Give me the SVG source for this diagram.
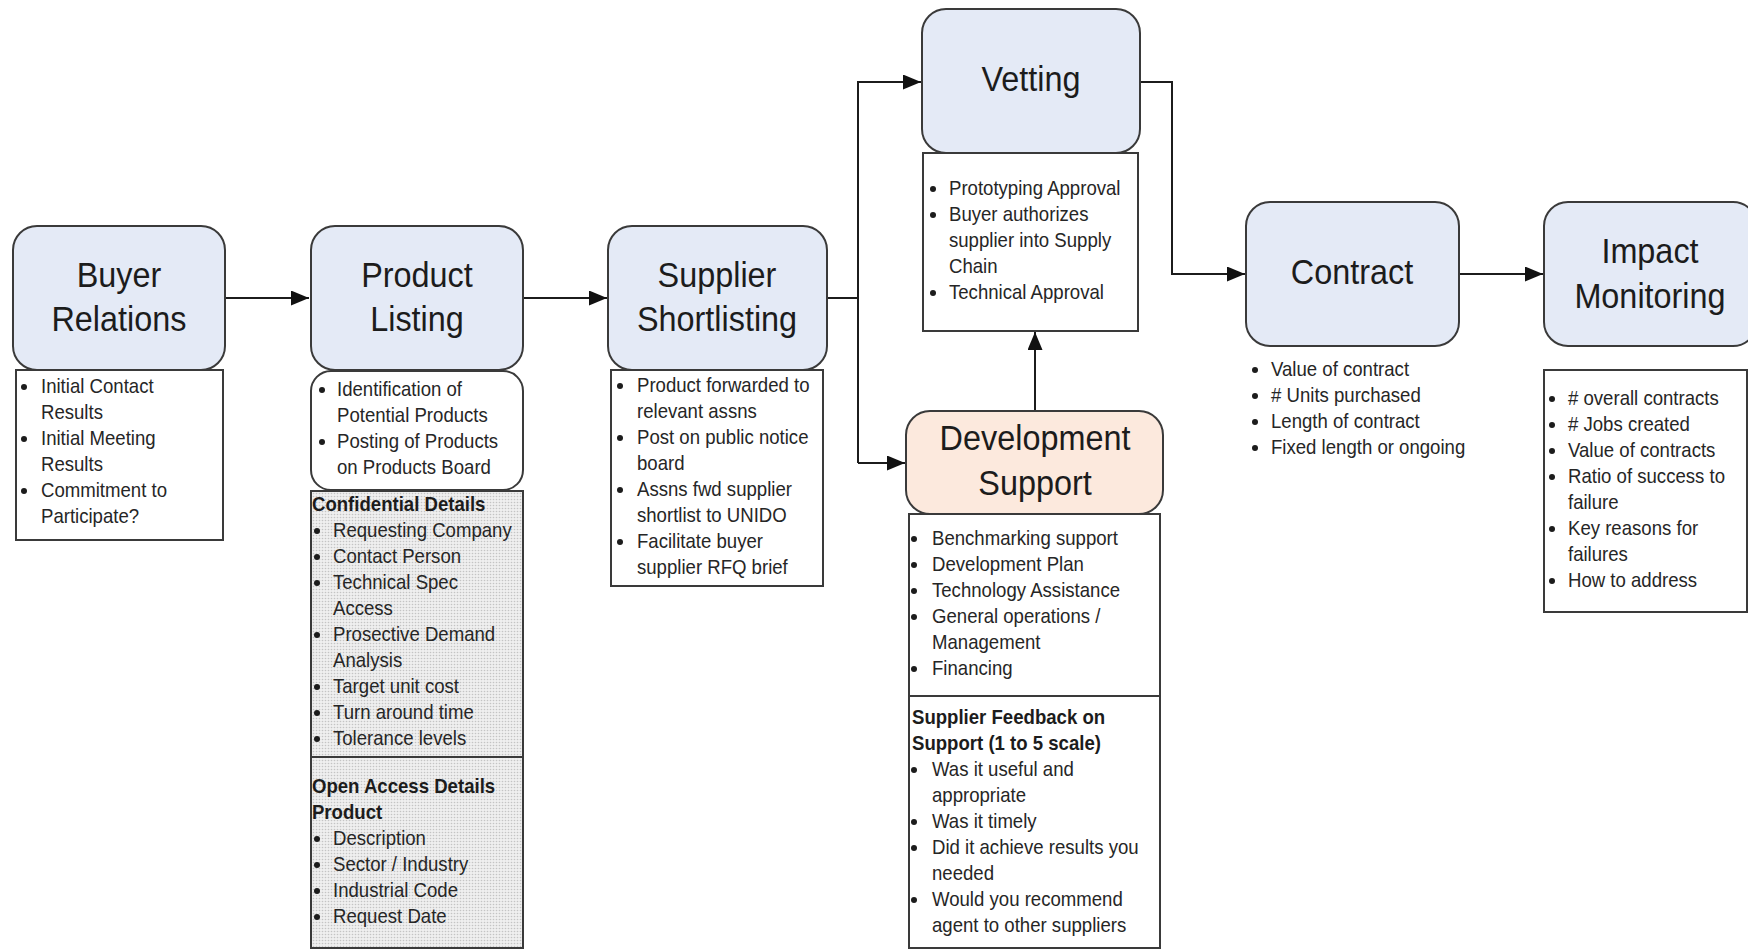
<svg xmlns="http://www.w3.org/2000/svg" width="1748" height="949" viewBox="0 0 1748 949">
<style>
.box{fill:#E4EAF6;stroke:#3a3a3a;stroke-width:2}
.dev{fill:#FCE9DD;stroke:#3a3a3a;stroke-width:2}
.tb{fill:#ffffff;stroke:#3a3a3a;stroke-width:2}
.dt{fill:url(#dots);stroke:#3a3a3a;stroke-width:2}
.title{font-family:"Liberation Sans",Arial,sans-serif;font-size:36px;fill:#1c1c1c;text-anchor:middle}
.t{font-family:"Liberation Sans",Arial,sans-serif;font-size:20px;fill:#262626}
.b{font-weight:bold;fill:#1c1c1c}
.bul circle{fill:#1c1c1c;r:3px}
.conn{fill:none;stroke:#1c1c1c;stroke-width:2}
</style>
<defs>
<pattern id="dots" width="3" height="3" patternUnits="userSpaceOnUse">
<rect width="3" height="3" fill="#efefef"/>
<circle cx="1.5" cy="1.5" r="0.8" fill="#c4c4c4"/>
</pattern>
<marker id="arr" markerUnits="userSpaceOnUse" markerWidth="20" markerHeight="16" refX="18" refY="7.5" orient="auto">
<path d="M0,0 L18,7.5 L0,15 z" fill="#111"/>
</marker>
</defs>

<g id="connectors">
<path class="conn" d="M225,298 H309" marker-end="url(#arr)"/>
<path class="conn" d="M523,298 H607" marker-end="url(#arr)"/>
<path class="conn" d="M827,298 H858"/>
<path class="conn" d="M858,463 V82 H921" marker-end="url(#arr)"/>
<path class="conn" d="M858,463 H905" marker-end="url(#arr)"/>
<path class="conn" d="M1140,82 H1172 V274 H1245" marker-end="url(#arr)"/>
<path class="conn" d="M1459,274 H1543" marker-end="url(#arr)"/>
<path class="conn" d="M1035,411 V332" marker-end="url(#arr)"/>
</g>

<g id="buyer-relations">
<rect class="box" x="13" y="226" width="212" height="144" rx="24"/>
<g transform="matrix(0.9 0 0 1 11.9 0)">
<text class="title" x="119" y="287">Buyer</text>
<text class="title" x="119" y="331">Relations</text>
</g>
<rect class="tb" x="16" y="370" width="207" height="170"/>
<g class="bul">
<circle cx="24" cy="387" r="3"/><circle cx="24" cy="439" r="3"/><circle cx="24" cy="491" r="3"/>
</g>
<g transform="matrix(0.93 0 0 1 2.87 0)">
<text class="t" x="41" y="393">Initial Contact</text>
<text class="t" x="41" y="419">Results</text>
<text class="t" x="41" y="445">Initial Meeting</text>
<text class="t" x="41" y="471">Results</text>
<text class="t" x="41" y="497">Commitment to</text>
<text class="t" x="41" y="523">Participate?</text>
</g>
</g>

<g id="product-listing">
<rect class="box" x="311" y="226" width="212" height="144" rx="24"/>
<g transform="matrix(0.9 0 0 1 41.7 0)">
<text class="title" x="417" y="287">Product</text>
<text class="title" x="417" y="331">Listing</text>
</g>
<rect class="tb" x="311" y="371" width="212" height="119" rx="20"/>
<g class="bul">
<circle cx="322" cy="390" r="3"/><circle cx="322" cy="442" r="3"/>
</g>
<g transform="matrix(0.93 0 0 1 23.59 0)">
<text class="t" x="337" y="396">Identification of</text>
<text class="t" x="337" y="422">Potential Products</text>
<text class="t" x="337" y="448">Posting of Products</text>
<text class="t" x="337" y="474">on Products Board</text>
</g>
<rect class="dt" x="311" y="491" width="212" height="266"/>
<rect class="dt" x="311" y="757" width="212" height="191"/>
<g class="bul">
<circle cx="317" cy="531" r="3"/><circle cx="317" cy="557" r="3"/><circle cx="317" cy="583" r="3"/>
<circle cx="317" cy="635" r="3"/><circle cx="317" cy="687" r="3"/><circle cx="317" cy="713" r="3"/>
<circle cx="317" cy="739" r="3"/>
<circle cx="317" cy="839" r="3"/><circle cx="317" cy="865" r="3"/><circle cx="317" cy="891" r="3"/>
<circle cx="317" cy="917" r="3"/>
</g>
<g transform="matrix(0.93 0 0 1 23.31 0)">
<text class="t b" x="310.4" y="511">Confidential Details</text>
<text class="t" x="333" y="537">Requesting Company</text>
<text class="t" x="333" y="563">Contact Person</text>
<text class="t" x="333" y="589">Technical Spec</text>
<text class="t" x="333" y="615">Access</text>
<text class="t" x="333" y="641">Prosective Demand</text>
<text class="t" x="333" y="667">Analysis</text>
<text class="t" x="333" y="693">Target unit cost</text>
<text class="t" x="333" y="719">Turn around time</text>
<text class="t" x="333" y="745">Tolerance levels</text>
<text class="t b" x="310.4" y="793">Open Access Details</text>
<text class="t b" x="310.4" y="819">Product</text>
<text class="t" x="333" y="845">Description</text>
<text class="t" x="333" y="871">Sector / Industry</text>
<text class="t" x="333" y="897">Industrial Code</text>
<text class="t" x="333" y="923">Request Date</text>
</g>
</g>

<g id="supplier-shortlisting">
<rect class="box" x="608" y="226" width="219" height="144" rx="24"/>
<g transform="matrix(0.9 0 0 1 71.7 0)">
<text class="title" x="717" y="287">Supplier</text>
<text class="title" x="717" y="331">Shortlisting</text>
</g>
<rect class="tb" x="611" y="370" width="212" height="216"/>
<g class="bul">
<circle cx="620" cy="386" r="3"/><circle cx="620" cy="438" r="3"/><circle cx="620" cy="490" r="3"/>
<circle cx="620" cy="542" r="3"/>
</g>
<g transform="matrix(0.93 0 0 1 44.59 0)">
<text class="t" x="637" y="392">Product forwarded to</text>
<text class="t" x="637" y="418">relevant assns</text>
<text class="t" x="637" y="444">Post on public notice</text>
<text class="t" x="637" y="470">board</text>
<text class="t" x="637" y="496">Assns fwd supplier</text>
<text class="t" x="637" y="522">shortlist to UNIDO</text>
<text class="t" x="637" y="548">Facilitate buyer</text>
<text class="t" x="637" y="574">supplier RFQ brief</text>
</g>
</g>

<g id="vetting">
<rect class="box" x="922" y="9" width="218" height="144" rx="24"/>
<g transform="matrix(0.9 0 0 1 103.1 0)">
<text class="title" x="1031" y="91">Vetting</text>
</g>
<rect class="tb" x="923" y="153" width="215" height="178"/>
<g class="bul">
<circle cx="933" cy="189" r="3"/><circle cx="933" cy="215" r="3"/><circle cx="933" cy="293" r="3"/>
</g>
<g transform="matrix(0.93 0 0 1 66.43 0)">
<text class="t" x="949" y="195">Prototyping Approval</text>
<text class="t" x="949" y="221">Buyer authorizes</text>
<text class="t" x="949" y="247">supplier into Supply</text>
<text class="t" x="949" y="273">Chain</text>
<text class="t" x="949" y="299">Technical Approval</text>
</g>
</g>

<g id="development-support">
<rect class="dev" x="906" y="411" width="257" height="103" rx="24"/>
<g transform="matrix(0.9 0 0 1 103.5 0)">
<text class="title" x="1035" y="450">Development</text>
<text class="title" x="1035" y="495">Support</text>
</g>
<rect class="tb" x="909" y="514" width="251" height="182"/>
<rect class="tb" x="909" y="696" width="251" height="252"/>
<g class="bul">
<circle cx="914" cy="539" r="3"/><circle cx="914" cy="565" r="3"/><circle cx="914" cy="591" r="3"/>
<circle cx="914" cy="617" r="3"/><circle cx="914" cy="669" r="3"/>
<circle cx="914" cy="770" r="3"/><circle cx="914" cy="822" r="3"/><circle cx="914" cy="848" r="3"/>
<circle cx="914" cy="900" r="3"/>
</g>
<g transform="matrix(0.93 0 0 1 65.24 0)">
<text class="t" x="932" y="545">Benchmarking support</text>
<text class="t" x="932" y="571">Development Plan</text>
<text class="t" x="932" y="597">Technology Assistance</text>
<text class="t" x="932" y="623">General operations /</text>
<text class="t" x="932" y="649">Management</text>
<text class="t" x="932" y="675">Financing</text>
<text class="t b" x="910.5" y="724">Supplier Feedback on</text>
<text class="t b" x="910.5" y="750">Support (1 to 5 scale)</text>
<text class="t" x="932" y="776">Was it useful and</text>
<text class="t" x="932" y="802">appropriate</text>
<text class="t" x="932" y="828">Was it timely</text>
<text class="t" x="932" y="854">Did it achieve results you</text>
<text class="t" x="932" y="880">needed</text>
<text class="t" x="932" y="906">Would you recommend</text>
<text class="t" x="932" y="932">agent to other suppliers</text>
</g>
</g>

<g id="contract">
<rect class="box" x="1246" y="202" width="213" height="144" rx="24"/>
<g transform="matrix(0.9 0 0 1 135.2 0)">
<text class="title" x="1352" y="284">Contract</text>
</g>
<g class="bul">
<circle cx="1255" cy="370" r="3"/><circle cx="1255" cy="396" r="3"/><circle cx="1255" cy="422" r="3"/>
<circle cx="1255" cy="448" r="3"/>
</g>
<g transform="matrix(0.93 0 0 1 88.97 0)">
<text class="t" x="1271" y="376">Value of contract</text>
<text class="t" x="1271" y="402"># Units purchased</text>
<text class="t" x="1271" y="428">Length of contract</text>
<text class="t" x="1271" y="454">Fixed length or ongoing</text>
</g>
</g>

<g id="impact-monitoring">
<rect class="box" x="1544" y="202" width="213" height="144" rx="24"/>
<g transform="matrix(0.9 0 0 1 165 0)">
<text class="title" x="1650" y="263">Impact</text>
<text class="title" x="1650" y="308">Monitoring</text>
</g>
<rect class="tb" x="1544" y="370" width="203" height="242"/>
<g class="bul">
<circle cx="1552" cy="399" r="3"/><circle cx="1552" cy="425" r="3"/><circle cx="1552" cy="451" r="3"/>
<circle cx="1552" cy="477" r="3"/><circle cx="1552" cy="529" r="3"/><circle cx="1552" cy="581" r="3"/>
</g>
<g transform="matrix(0.93 0 0 1 109.76 0)">
<text class="t" x="1568" y="405"># overall contracts</text>
<text class="t" x="1568" y="431"># Jobs created</text>
<text class="t" x="1568" y="457">Value of contracts</text>
<text class="t" x="1568" y="483">Ratio of success to</text>
<text class="t" x="1568" y="509">failure</text>
<text class="t" x="1568" y="535">Key reasons for</text>
<text class="t" x="1568" y="561">failures</text>
<text class="t" x="1568" y="587">How to address</text>
</g>
</g>
</svg>
